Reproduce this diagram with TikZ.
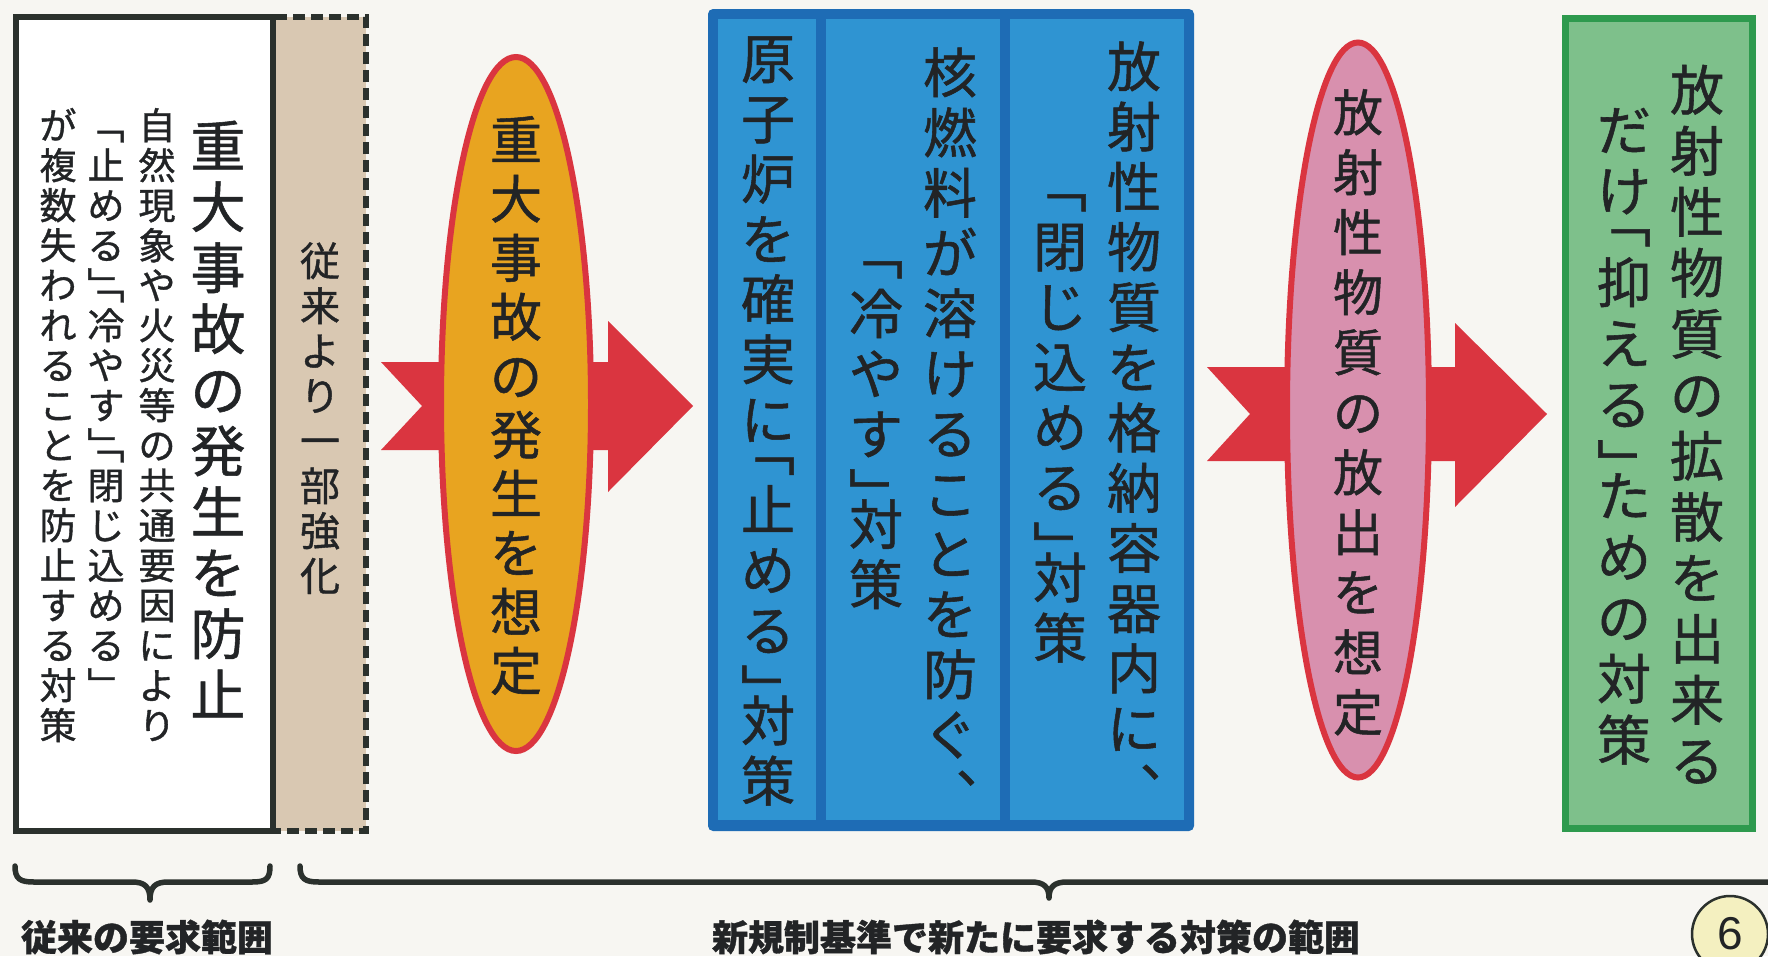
\documentclass[tikz,border=0pt]{standalone}
\usepackage{fontspec}
\newfontfamily\jp{Noto Sans CJK JP}[FakeBold=1]
\newfontfamily\jpl{Noto Sans CJK JP}
\newfontfamily\lat{Liberation Sans}
\usetikzlibrary{shapes.geometric}
\definecolor{paper}{HTML}{F7F6F2}
\definecolor{ink}{HTML}{222426}
\definecolor{frame}{HTML}{2B312D}
\definecolor{tan}{HTML}{D9C8B2}
\definecolor{arrowred}{HTML}{DA3540}
\definecolor{orangefill}{HTML}{E8A420}
\definecolor{pinkfill}{HTML}{D890AE}
\definecolor{bluedark}{HTML}{1E6CB5}
\definecolor{bluelight}{HTML}{2F94D2}
\definecolor{greendark}{HTML}{2E9A4E}
\definecolor{greenlight}{HTML}{7EC08B}
\definecolor{circfill}{HTML}{F4F0C0}
\makeatletter
\newdimen\vc@p
\newcommand\vcol[3]{\begingroup\fontsize{#1}{#2}\selectfont\vc@p=#2pt\relax
  \vbox{\offinterlineskip\vc@loop#3\relax}\endgroup}
\def\vc@loop#1{\ifx\relax#1\else\vc@one#1\expandafter\vc@loop\fi}
\def\vc@one#1{%
  \ifx#1﹁\vskip-0.5\vc@p\fi
  \hbox to 1em{\hss\vrule height\dimexpr0.5\vc@p+0.38em\relax depth\dimexpr0.5\vc@p-0.38em\relax width0pt #1\hss}%
  \ifx#1﹂\vskip-0.5\vc@p\fi}
\makeatother
\tikzset{
  vtext/.style={inner sep=0pt, anchor=north, text=ink, font=\jp},
  arrowshape/.style={fill=arrowred},
  oval/.style={ellipse, draw=arrowred, line width=6pt, inner sep=0pt},
  bracepath/.style={draw=frame, line width=5.5pt, line cap=round, line join=round},
  bottomlabel/.style={inner sep=0pt, text=ink, font=\jp\bfseries\fontsize{36}{40}\selectfont}
}
\begin{document}
\begin{tikzpicture}[x=1pt,y=-1pt]
\useasboundingbox (0,0) rectangle (1768,956);
\clip (0,0) rectangle (1768,956);
\fill[paper] (0,0) rectangle (1768,956);

% tan dashed box and white box
\draw[fill=tan, draw=frame, line width=5.5pt, dash pattern=on 12pt off 6pt] (273,17) rectangle (366,831);
\draw[fill=white, draw=frame, line width=6.5pt] (16,17) rectangle (273,831);

\node[vtext] (w1) at (218,115) {\vcol{55}{61}{重大事故の発生を防止}};
\node[vtext] (w2) at (157,105) {\vcol{37}{40}{自然現象や火災等の共通要因により}};
\node[vtext] (w3) at (106,125) {\vcol{37}{40}{﹁止める﹂﹁冷やす﹂﹁閉じ込める﹂}};
\node[vtext] (w4) at (58,105) {\vcol{37}{40}{が複数失われることを防止する対策}};
\node[vtext] (t1) at (320,238) {\vcol{40}{45}{従来より一部強化}};

% arrow 1 and orange oval
\fill[arrowshape] (381,362) -- (608,362) -- (608,321) -- (693,406) -- (608,492) -- (608,450) -- (381,450) -- (422,406) -- cycle;
\node[oval, fill=orangefill, minimum width=150pt, minimum height=694pt] (o1) at (516,404) {};
\node[vtext] (o1t) at (516,110) {\vcol{52}{59}{重大事故の発生を想定}};

% blue box
\fill[bluedark, rounded corners=5pt] (708,9) rectangle (1194,831);
\fill[bluelight] (718,19) rectangle (816,820);
\fill[bluelight] (826,19) rectangle (1000,820);
\fill[bluelight] (1010,19) rectangle (1184,820);
\node[vtext] (bE) at (768,28) {\vcol{54}{60.2}{原子炉を確実に﹁止める﹂対策}};
\node[vtext] (bC) at (950,42) {\vcol{54}{60.2}{核燃料が溶けることを防ぐ︑}};
\node[vtext] (bD) at (876,253) {\vcol{54}{60.2}{﹁冷やす﹂対策}};
\node[vtext] (bA) at (1134,36) {\vcol{54}{60.2}{放射性物質を格納容器内に︑}};
\node[vtext] (bB) at (1060,186) {\vcol{54}{60.2}{﹁閉じ込める﹂対策}};

% arrow 2 and pink oval
\fill[arrowshape] (1207,367) -- (1455,367) -- (1455,323) -- (1547,414) -- (1455,507) -- (1455,461) -- (1207,461) -- (1250,414) -- cycle;
\node[oval, fill=pinkfill, minimum width=142pt, minimum height=735pt] (o2) at (1358,410) {};
\node[vtext] (o2t) at (1358,82) {\vcol{50}{60}{放射性物質の放出を想定}};

% green box
\draw[fill=greenlight, draw=greendark, line width=7pt] (1565,18) rectangle (1752,828);
\node[vtext] (g1) at (1697,59) {\vcol{54}{61}{放射性物質の拡散を出来る}};
\node[vtext] (g2) at (1624,99) {\vcol{54}{61}{だけ﹁抑える﹂ための対策}};

% braces
\draw[bracepath] (15,866) .. controls (15,879) and (20,882) .. (34,882) -- (132,882) .. controls (145,882) and (150,887) .. (150,900)
  .. controls (150,887) and (155,882) .. (168,882) -- (252,882) .. controls (266,882) and (270,879) .. (270,866);
\draw[bracepath] (300,866) .. controls (300,879) and (305,882) .. (319,882) -- (1031,882) .. controls (1044,882) and (1049,887) .. (1049,898)
  .. controls (1049,887) and (1054,882) .. (1067,882) -- (1780,882);

\node[bottomlabel] (l1) at (147,937) {従来の要求範囲};
\node[bottomlabel] (l2) at (1036,937) {新規制基準で新たに要求する対策の範囲};

\node[circle, draw=frame, line width=2.5pt, fill=circfill, minimum size=76pt, inner sep=0pt, text=ink, font=\lat\fontsize{46}{50}\selectfont] (pg) at (1730,934) {6};
\end{tikzpicture}
\end{document}
